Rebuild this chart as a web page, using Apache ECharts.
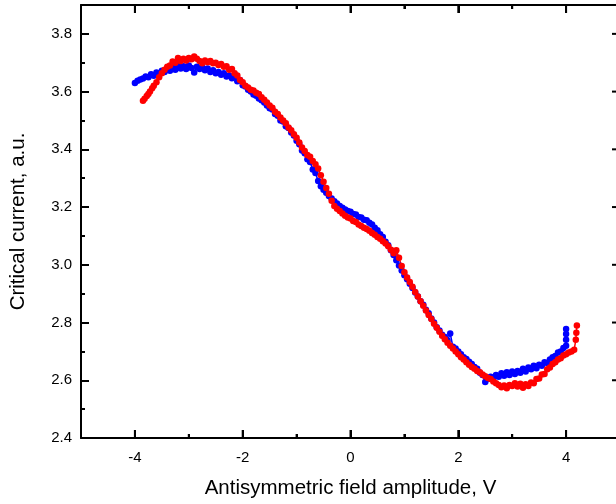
<!DOCTYPE html>
<html>
<head>
<meta charset="utf-8">
<script src="https://cdn.jsdelivr.net/npm/echarts@6/dist/echarts.min.js"></script>
<style>
html,body{margin:0;padding:0;background:#fff;}
#chart{width:616px;height:504px;}
</style>
</head>
<body>
<div id="chart"></div>
<script>
// ---- data ----
const xTickLabels = [-4, -2, 0, 2, 4];
const xMinorTicks = [-3, -1, 1, 3];
const yTickLabels = [2.4, 2.6, 2.8, 3.0, 3.2, 3.4, 3.6, 3.8];
const yMinorTicks = [2.5, 2.7, 2.9, 3.1, 3.3, 3.5, 3.7];

const blueX = [-4.00,-3.95,-3.90,-3.85,-3.80,-3.75,-3.70,-3.65,-3.60,-3.55,-3.50,-3.45,-3.40,-3.35,-3.30,-3.25,-3.20,-3.15,-3.10,-3.05,
 -3.00,-2.95,-2.90,-2.85,-2.80,-2.75,-2.70,-2.65,-2.60,-2.55,-2.50,-2.45,-2.40,-2.35,-2.30,-2.25,-2.20,-2.15,-2.10,-2.05,
 -2.00,-1.95,-1.90,-1.85,-1.80,-1.75,-1.70,-1.65,-1.60,-1.55,-1.50,-1.45,-1.40,-1.35,-1.30,-1.25,-1.20,-1.15,-1.10,-1.05,
 -1.00,-0.95,-0.90,-0.85,-0.80,-0.75,-0.70,-0.65,-0.60,-0.55,-0.50,-0.45,-0.40,-0.35,-0.30,-0.25,-0.20,-0.15,-0.10,-0.05,
 0.00,0.05,0.10,0.15,0.20,0.25,0.30,0.35,0.40,0.45,0.50,0.55,0.60,0.65,0.70,0.75,0.80,0.85,0.90,0.95,
 1.00,1.05,1.10,1.15,1.20,1.25,1.30,1.35,1.40,1.45,1.50,1.55,1.60,1.65,1.70,1.75,1.80,1.85,1.90,1.95,
 2.00,2.05,2.10,2.15,2.20,2.25,2.30,2.35,2.40,2.45,2.50,2.55,2.60,2.65,2.70,2.75,2.80,2.85,2.90,2.95,
 3.00,3.05,3.10,3.15,3.20,3.25,3.30,3.35,3.40,3.45,3.50,3.55,3.60,3.65,3.70,3.75,3.80,3.85,3.90,3.95,
 4.00,4.00,4.00,4.00];
const blueY = [3.630,3.638,3.642,3.645,3.652,3.650,3.660,3.655,3.666,3.662,3.672,3.668,3.678,3.672,3.684,3.676,3.690,3.680,3.688,3.678,
 3.690,3.682,3.666,3.686,3.678,3.684,3.674,3.680,3.668,3.674,3.664,3.668,3.658,3.664,3.652,3.656,3.646,3.650,3.636,3.640,
 3.622,3.618,3.606,3.600,3.590,3.586,3.576,3.570,3.562,3.552,3.542,3.538,3.522,3.516,3.500,3.496,3.480,3.474,3.458,3.448,
 3.430,3.418,3.396,3.386,3.366,3.356,3.330,3.318,3.290,3.272,3.260,3.250,3.238,3.230,3.220,3.212,3.204,3.198,3.192,3.186,
 3.184,3.176,3.174,3.166,3.164,3.156,3.154,3.146,3.140,3.128,3.120,3.106,3.096,3.080,3.068,3.050,3.034,3.016,2.998,2.980,
 2.964,2.950,2.934,2.920,2.904,2.890,2.874,2.862,2.844,2.832,2.814,2.800,2.784,2.772,2.758,2.750,2.738,2.762,2.716,2.710,
 2.700,2.690,2.680,2.674,2.664,2.656,2.646,2.640,2.626,2.618,2.594,2.604,2.612,2.606,2.618,2.612,2.624,2.616,2.628,2.618,
 2.630,2.622,2.632,2.626,2.640,2.630,2.644,2.638,2.650,2.642,2.654,2.650,2.662,2.660,2.672,2.680,2.684,2.696,2.700,2.712,
 2.720,2.740,2.760,2.778];

const redX = [-3.85,-3.82,-3.78,-3.75,-3.72,-3.68,-3.65,-3.60,-3.55,-3.50,-3.45,-3.40,-3.35,-3.30,-3.25,-3.20,-3.15,-3.10,-3.05,
 -3.00,-2.95,-2.90,-2.85,-2.80,-2.75,-2.70,-2.65,-2.60,-2.55,-2.50,-2.45,-2.40,-2.35,-2.30,-2.25,-2.20,-2.15,-2.10,-2.05,
 -2.00,-1.95,-1.90,-1.85,-1.80,-1.75,-1.70,-1.65,-1.60,-1.55,-1.50,-1.45,-1.40,-1.35,-1.30,-1.25,-1.20,-1.15,-1.10,-1.05,
 -1.00,-0.95,-0.90,-0.85,-0.80,-0.75,-0.70,-0.65,-0.60,-0.55,-0.50,-0.45,-0.40,-0.35,-0.30,-0.25,-0.20,-0.15,-0.10,-0.05,
 0.00,0.05,0.10,0.15,0.20,0.25,0.30,0.35,0.40,0.45,0.50,0.55,0.60,0.65,0.70,0.75,0.80,0.85,0.90,0.95,
 1.00,1.05,1.10,1.15,1.20,1.25,1.30,1.35,1.40,1.45,1.50,1.55,1.60,1.65,1.70,1.75,1.80,1.85,1.90,1.95,
 2.00,2.05,2.10,2.15,2.20,2.25,2.30,2.35,2.40,2.45,2.50,2.55,2.60,2.65,2.70,2.75,2.80,2.85,2.90,2.95,
 3.00,3.05,3.10,3.15,3.20,3.25,3.30,3.35,3.40,3.45,3.50,3.55,3.60,3.65,3.70,3.75,3.80,3.85,3.90,3.95,
 4.00,4.05,4.10,4.15,4.18,4.19,4.20];
const redY = [3.568,3.575,3.585,3.592,3.600,3.612,3.620,3.632,3.650,3.664,3.676,3.686,3.690,3.704,3.700,3.716,3.706,3.714,3.708,
 3.716,3.712,3.722,3.714,3.706,3.698,3.708,3.702,3.706,3.698,3.700,3.692,3.696,3.686,3.688,3.676,3.678,3.664,3.656,3.640,
 3.632,3.620,3.614,3.606,3.604,3.596,3.592,3.580,3.572,3.562,3.552,3.544,3.530,3.522,3.510,3.500,3.490,3.476,3.466,3.452,
 3.440,3.424,3.406,3.394,3.380,3.374,3.360,3.348,3.334,3.310,3.288,3.266,3.246,3.222,3.204,3.194,3.186,3.178,3.170,3.164,
 3.160,3.152,3.148,3.140,3.134,3.128,3.124,3.118,3.110,3.104,3.096,3.090,3.082,3.074,3.064,3.052,3.040,3.050,3.024,2.996,
 2.974,2.956,2.940,2.924,2.906,2.890,2.874,2.858,2.842,2.826,2.812,2.796,2.782,2.768,2.754,2.742,2.730,2.720,2.710,2.700,
 2.690,2.680,2.672,2.662,2.654,2.646,2.640,2.632,2.628,2.620,2.614,2.608,2.604,2.596,2.590,2.584,2.576,2.582,2.572,2.584,
 2.580,2.590,2.578,2.588,2.574,2.586,2.580,2.592,2.590,2.604,2.606,2.620,2.622,2.638,2.644,2.656,2.662,2.672,2.676,2.686,
 2.690,2.696,2.700,2.706,2.740,2.765,2.790];

// ---- chart ----
const FONT = "'Liberation Sans', Arial, sans-serif";
const X_MIN = -5, X_MAX = 5, Y_MIN = 2.4, Y_MAX = 3.9;
const zip = (xs, ys) => xs.map((x, i) => [x, ys[i]]);
function blk() { return { color: '#000', width: 2 }; }

function xAx(pos, extra) {
  return Object.assign({
    type: 'value', position: pos, min: X_MIN, max: X_MAX, interval: 2,
    axisLine: { show: true, onZero: false, lineStyle: blk() },
    axisTick: { show: true, inside: true, length: 4, lineStyle: blk() },
    minorTick: { show: true, splitNumber: 2, length: 8, lineStyle: blk() },
    axisLabel: { show: false },
    splitLine: { show: false },
    minorSplitLine: { show: false }
  }, extra || {});
}
function yAx(ticks, len, major, extra) {
  return Object.assign({
    type: 'value', position: 'left', min: Y_MIN, max: Y_MAX,
    axisLine: { show: major, onZero: false, lineStyle: blk() },
    axisTick: { show: true, inside: true, length: len, customValues: ticks, lineStyle: blk() },
    axisLabel: { show: false },
    splitLine: { show: false }
  }, extra || {});
}

const chart = echarts.init(document.getElementById('chart'));
chart.setOption({
  animation: false,
  grid: { left: 81, top: 5, width: 539, height: 433, outerBoundsMode: 'none' },
  xAxis: [
    xAx('bottom', {
      axisLabel: { show: true, customValues: xTickLabels, color: '#000', fontSize: 15, fontFamily: FONT, margin: 12,
        formatter: v => String(v) },
      name: 'Antisymmetric field amplitude, V', nameLocation: 'middle', nameGap: 40,
      nameTextStyle: { color: '#000', fontSize: 20.5, fontFamily: FONT }
    }),
    xAx('top')
  ],
  yAxis: [
    yAx(yTickLabels, 8, true, {
      axisLabel: { show: true, customValues: yTickLabels, color: '#000', fontSize: 15, fontFamily: FONT, margin: 9,
        formatter: v => Number(v).toFixed(1) },
      name: 'Critical current, a.u.', nameLocation: 'middle', nameGap: 52,
      nameTextStyle: { color: '#000', fontSize: 20.5, fontFamily: FONT }
    }),
    yAx(yMinorTicks, 4, false)
  ],
  series: [
    {
      type: 'line', name: 'blue', xAxisIndex: 0, yAxisIndex: 0,
      data: zip(blueX, blueY),
      symbol: 'circle', symbolSize: 6.5, showSymbol: true,
      lineStyle: { color: '#0000ff', width: 1.5 },
      itemStyle: { color: '#0000ff', borderWidth: 0 }
    },
    {
      type: 'line', name: 'red', xAxisIndex: 0, yAxisIndex: 0,
      data: zip(redX, redY),
      symbol: 'circle', symbolSize: 6.5, showSymbol: true,
      lineStyle: { color: '#ff0000', width: 1.5 },
      itemStyle: { color: '#ff0000', borderWidth: 0 }
    }
  ]
});

// Frame ticks on the top/bottom edges and the (off-canvas) right edge,
// positioned through the chart's own axis scales.
const px = p => chart.convertToPixel({ gridIndex: 0 }, p);
const tickGraphics = [];
function tick(x1, y1, x2, y2) {
  tickGraphics.push({ type: 'line', silent: true, z: 50,
    shape: { x1: x1, y1: y1, x2: x2, y2: y2 },
    style: { stroke: '#000', lineWidth: 2 } });
}
const yBottom = px([X_MIN, Y_MIN])[1];
const yTop = px([X_MIN, Y_MAX])[1];
const xRight = px([X_MAX, Y_MIN])[0];
xTickLabels.forEach(v => { const x = px([v, Y_MIN])[0]; tick(x, yBottom, x, yBottom - 8); tick(x, yTop, x, yTop + 8); });
xMinorTicks.forEach(v => { const x = px([v, Y_MIN])[0]; tick(x, yBottom, x, yBottom - 4); tick(x, yTop, x, yTop + 4); });
yTickLabels.forEach(v => { const y = px([X_MIN, v])[1]; tick(xRight, y, xRight - 8, y); });
yMinorTicks.forEach(v => { const y = px([X_MIN, v])[1]; tick(xRight, y, xRight - 4, y); });
chart.setOption({ graphic: { elements: tickGraphics } });
</script>
</body>
</html>
